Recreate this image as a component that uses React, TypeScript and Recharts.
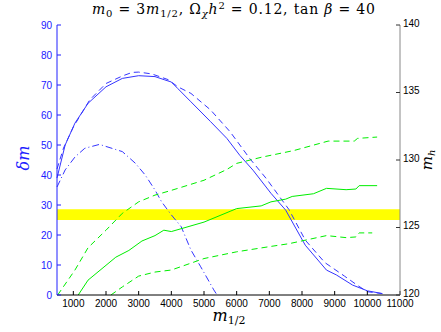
import React from "react";
import {
  ComposedChart,
  Line,
  XAxis,
  YAxis,
  ReferenceArea,
} from "recharts";

// delta m curves (left axis)
const M_DM_SOLID = [500, 750, 1050, 1450, 2000, 2500, 3000, 3500, 3800, 4000, 4200, 4600, 5200, 5700, 6100, 6500, 7050, 7500, 8100, 8750, 9050, 9550, 10000, 10450];
const DM_SOLID = [39, 50, 57.3, 63.9, 69.4, 72.2, 73.1, 72.8, 71.7, 71, 68.8, 64.4, 57.8, 52.2, 46.5, 41.6, 33.9, 28.3, 16.6, 8.3, 6.7, 3.3, 1.4, 0.5];

const M_DM_DASHED = [500, 700, 1000, 1500, 2000, 2500, 2800, 3000, 3400, 3900, 4200, 4600, 5200, 5800, 6400, 6900, 7600, 8100, 8700, 9300, 9700, 10000, 10500];
const DM_DASHED = [42, 49, 56, 65, 70.5, 73, 74.2, 74.3, 73.7, 71.8, 69.4, 67.2, 61.7, 54.4, 45.5, 38.9, 28.5, 18.3, 10.8, 6.3, 3.2, 1.1, 0.4];

const M_DM_DASHDOT = [500, 750, 1050, 1350, 1800, 2500, 2900, 3200, 3500, 3700, 4000, 4300, 4600, 4900, 5300, 5400];
const DM_DASHDOT = [36, 41.7, 46, 48.9, 50.2, 47.8, 43.9, 40, 35, 31.1, 26.7, 22.8, 15, 9.4, 1.7, 0];

// m_h curves (right axis)
const M_MH_SOLID = [1150, 1450, 2000, 2300, 2700, 3100, 3500, 3770, 4000, 5000, 5800, 6000, 6750, 7050, 7500, 7700, 8350, 8750, 9350, 9650, 9750, 10300];
const MH_SOLID = [120, 121.1, 122.2, 122.8, 123.3, 124.0, 124.4, 124.8, 124.7, 125.4, 126.2, 126.4, 126.6, 126.9, 127.1, 127.3, 127.5, 127.9, 127.8, 127.85, 128.1, 128.1];

const M_MH_UPPER = [520, 1050, 1450, 2000, 2500, 3000, 3500, 4000, 5000, 5700, 6000, 6750, 7750, 8800, 9600, 9700, 10300];
const MH_UPPER = [120, 121.85, 123.5, 124.8, 126.05, 126.9, 127.4, 127.75, 128.5, 129.3, 129.75, 130.2, 130.7, 131.4, 131.4, 131.6, 131.7];

const M_MH_LOWER = [2150, 2500, 3000, 3500, 4000, 5000, 6000, 7050, 7600, 8750, 9350, 9650, 9750, 10150];
const MH_LOWER = [120, 120.6, 121.4, 121.7, 121.85, 122.7, 123.2, 123.6, 123.8, 124.4, 124.25, 124.3, 124.6, 124.6];

const MH_BAND = [125.55, 126.35];

const X_TICKS = [1000, 2000, 3000, 4000, 5000, 6000, 7000, 8000, 9000, 10000, 11000];
const DM_TICKS = [0, 10, 20, 30, 40, 50, 60, 70, 80, 90];
const MH_TICKS = [120, 125, 130, 135, 140];

const BLUE = "#3535ff";
const AXIS_BLUE = "#2020ff";
const GREEN = "#00ee00";
const SANS = "'Liberation Sans', Arial, sans-serif";
const SERIF = "'DejaVu Serif', 'Liberation Serif', serif";

const toRows = (xs: number[], ys: number[]) => xs.map((m, i) => ({ m, v: ys[i] }));

const series = [
  { key: "dmSolid", axis: "dm", data: toRows(M_DM_SOLID, DM_SOLID), color: BLUE, dash: undefined },
  { key: "dmDashed", axis: "dm", data: toRows(M_DM_DASHED, DM_DASHED), color: BLUE, dash: "6 4" },
  { key: "dmDashdot", axis: "dm", data: toRows(M_DM_DASHDOT, DM_DASHDOT), color: BLUE, dash: "7 3 1 3" },
  { key: "mhSolid", axis: "mh", data: toRows(M_MH_SOLID, MH_SOLID), color: GREEN, dash: undefined },
  { key: "mhUpper", axis: "mh", data: toRows(M_MH_UPPER, MH_UPPER), color: GREEN, dash: "6 4" },
  { key: "mhLower", axis: "mh", data: toRows(M_MH_LOWER, MH_LOWER), color: GREEN, dash: "6 4" },
];

export default function App() {
  return (
    <div style={{ position: "absolute", left: 0, top: 0, width: 441, height: 332, background: "#fff" }}>
      <ComposedChart width={441} height={332} margin={{ top: 25, right: 0, bottom: 0, left: 0 }}>
        <XAxis
          dataKey="m"
          type="number"
          domain={[500, 11000]}
          ticks={X_TICKS}
          allowDuplicatedCategory={false}
          height={37}
          tickSize={-4}
          tickMargin={9}
          stroke="#000"
          tick={{ fill: "#000", fontSize: 10, fontFamily: SANS }}
          interval={0}
        />
        <YAxis
          yAxisId="dm"
          orientation="left"
          domain={[0, 90]}
          ticks={DM_TICKS}
          width={57}
          tickSize={-4}
          tickMargin={9}
          stroke={AXIS_BLUE}
          tick={{ fill: AXIS_BLUE, fontSize: 10, fontFamily: SANS }}
          interval={0}
        />
        <YAxis
          yAxisId="mh"
          orientation="right"
          domain={[120, 140]}
          ticks={MH_TICKS}
          width={41}
          tickSize={-4}
          tickMargin={7}
          stroke="#888"
          tickLine={{ stroke: "#333" }}
          tick={{ fill: "#000", fontSize: 10, fontFamily: SANS, dy: -2 }}
          interval={0}
        />
        <ReferenceArea
          yAxisId="mh"
          x1={500}
          x2={11000}
          y1={MH_BAND[0]}
          y2={MH_BAND[1]}
          fill="#ffff00"
          fillOpacity={1}
          stroke="none"
        />
        {series.map((s) => (
          <Line
            key={s.key}
            yAxisId={s.axis}
            data={s.data}
            dataKey="v"
            type="linear"
            stroke={s.color}
            strokeWidth={1}
            strokeDasharray={s.dash}
            dot={false}
            activeDot={false}
            isAnimationActive={false}
          />
        ))}
      </ComposedChart>
      <svg
        width={441}
        height={332}
        style={{ position: "absolute", left: 0, top: 0, pointerEvents: "none" }}
      >
        <text
          x={92}
          y={14}
          textLength={283}
          lengthAdjust="spacing"
          fontFamily={SERIF}
          fontSize={14}
          fill="#000"
        >
          <tspan fontStyle="italic">m</tspan>
          <tspan fontSize={10} dy={3}>0</tspan>
          <tspan dy={-3}> = 3</tspan>
          <tspan fontStyle="italic">m</tspan>
          <tspan fontSize={10} dy={3}>1/2</tspan>
          <tspan dy={-3}>, Ω</tspan>
          <tspan fontSize={10} dy={3} fontStyle="italic">χ</tspan>
          <tspan dy={-3} fontStyle="italic">h</tspan>
          <tspan fontSize={10} dy={-5}>2</tspan>
          <tspan dy={5}> = 0.12, tan </tspan>
          <tspan fontStyle="italic">β</tspan>
          <tspan> = 40</tspan>
        </text>
        <text
          transform="translate(29,158) rotate(-90)"
          textAnchor="middle"
          fontFamily={SERIF}
          fontStyle="italic"
          fontSize={16}
          fill={AXIS_BLUE}
        >
          δm
        </text>
        <text
          transform="translate(432,160) rotate(-90)"
          textAnchor="middle"
          fontFamily={SERIF}
          fontSize={15}
          fill="#000"
        >
          <tspan fontStyle="italic">m</tspan>
          <tspan fontSize={10} dy={3} fontStyle="italic">h</tspan>
        </text>
        <text x={229} y={321} textAnchor="middle" fontFamily={SERIF} fontSize={16} fill="#000">
          <tspan fontStyle="italic">m</tspan>
          <tspan fontSize={11} dy={3}>1/2</tspan>
        </text>
      </svg>
    </div>
  );
}
